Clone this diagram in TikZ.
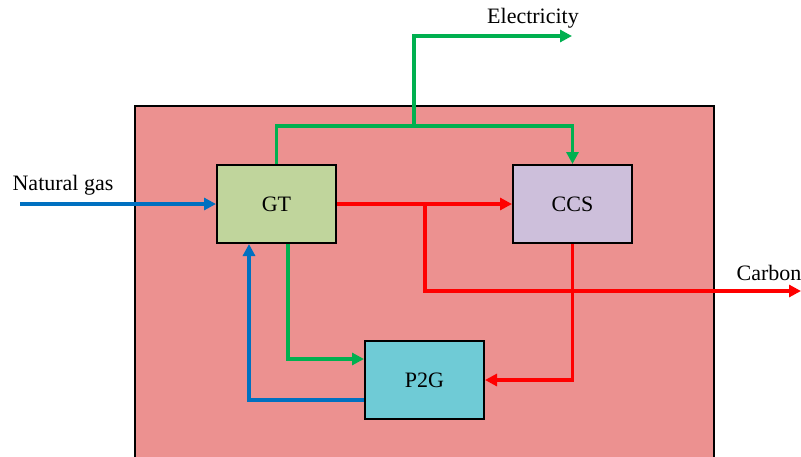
\documentclass[tikz,border=0pt]{standalone}
\usepackage{fontspec}
\setmainfont{Liberation Serif}
\usetikzlibrary{arrows.meta}
\definecolor{bgpink}{HTML}{EC9190}
\definecolor{gtgreen}{HTML}{C0D59C}
\definecolor{ccsviolet}{HTML}{CDBFDB}
\definecolor{ptgcyan}{HTML}{6FCBD6}
\definecolor{lgreen}{HTML}{00B050}
\definecolor{lblue}{HTML}{0070C0}
\definecolor{lred}{HTML}{FF0000}
\tikzset{
  unitbox/.style={draw=black, line width=2pt, minimum width=119pt, minimum height=78pt, inner sep=0pt, font=\fontsize{22}{25}\selectfont},
  flow/.style={line width=3.4pt, -{Triangle[length=12pt,width=12pt]}},
  lbl/.style={font=\fontsize{22}{25}\selectfont, inner sep=0pt}
}
\begin{document}
\begin{tikzpicture}[x=1pt,y=-1pt]
\useasboundingbox (0,0) rectangle (801,456);
\fill[white] (0,0) rectangle (801,456);
\draw[fill=bgpink, line width=2pt] (135,106) rectangle (714,480);
\node[unitbox, fill=gtgreen] (GT) at (276.5,204) {GT};
\node[unitbox, fill=ccsviolet] (CCS) at (572.5,204) {CCS};
\node[unitbox, fill=ptgcyan] (P2G) at (424.5,380) {P2G};
\node[lbl] (elecl) at (533,18) {Electricity};
\node[lbl] (ngl) at (63,185) {Natural gas};
\node[lbl] (carbl) at (769,273) {Carbon};
\coordinate (split) at (414,126);
\coordinate (elec) at (572,36);
\coordinate (rsplit) at (425,204);
\coordinate (carb) at (801,291);
\coordinate (ng) at (20,204);
% green
\draw[flow, lgreen] (GT.north) |- (split) -| (CCS.north);
\draw[flow, lgreen] (split) |- (elec);
\draw[flow, lgreen] ([xshift=11.5pt]GT.south) |- ([yshift=21pt]P2G.west);
% red
\draw[flow, lred] (GT.east) -- (CCS.west);
\draw[flow, lred] (rsplit) |- (carb);
\draw[flow, lred] (CCS.south) |- (P2G.east);
% blue
\draw[flow, lblue] ([yshift=-20pt]P2G.west) -| ([xshift=-27.5pt]GT.south);
\draw[flow, lblue] (ng) -- (GT.west);
\end{tikzpicture}
\end{document}
